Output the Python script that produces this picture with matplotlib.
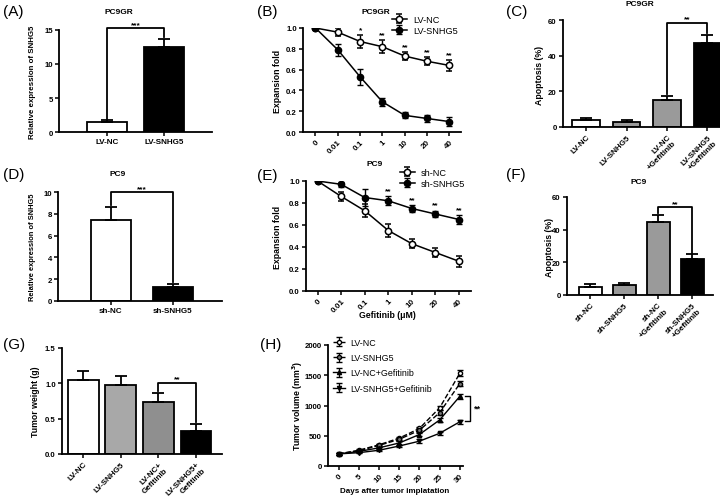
import matplotlib
matplotlib.use("Agg")
import matplotlib.pyplot as plt
import numpy as np

plt.rcParams["font.family"] = ["Liberation Sans", "DejaVu Sans"]
plt.rcParams["font.weight"] = "bold"

# ---- data ----
a_groups = ["LV-NC", "LV-SNHG5"]
a_vals = [1.4, 12.5]
a_err = [0.3, 1.2]

conc = ["0", "0.01", "0.1", "1", "10", "20", "40"]
b_nc = [1.0, 0.96, 0.87, 0.82, 0.73, 0.68, 0.64]
b_nc_err = [0.0, 0.04, 0.06, 0.06, 0.04, 0.04, 0.05]
b_snhg5 = [1.0, 0.79, 0.53, 0.29, 0.16, 0.13, 0.10]
b_snhg5_err = [0.0, 0.06, 0.08, 0.04, 0.03, 0.03, 0.04]
b_stars = ["", "", "*", "**", "**", "**", "**"]

c_groups = ["LV-NC", "LV-SNHG5", "LV-NC\n+Gefitinib", "LV-SNHG5\n+Gefitinib"]
c_vals = [4.0, 3.0, 15.0, 47.0]
c_err = [0.8, 1.2, 2.5, 4.5]

d_groups = ["sh-NC", "sh-SNHG5"]
d_vals = [7.4, 1.3]
d_err = [1.2, 0.25]

e_nc = [1.0, 0.86, 0.73, 0.55, 0.43, 0.35, 0.27]
e_nc_err = [0.0, 0.04, 0.06, 0.06, 0.04, 0.04, 0.05]
e_snhg5 = [1.0, 0.97, 0.85, 0.82, 0.75, 0.70, 0.65]
e_snhg5_err = [0.0, 0.02, 0.08, 0.04, 0.03, 0.03, 0.04]
e_stars = ["", "", "", "**", "**", "**", "**"]

f_groups = ["sh-NC", "sh-SNHG5", "sh-NC\n+Gefitinib", "sh-SNHG5\n+Gefitinib"]
f_vals = [5.0, 6.0, 45.0, 22.0]
f_err = [2.0, 1.2, 4.0, 3.0]

g_groups = ["LV-NC", "LV-SNHG5", "LV-NC+\nGefitinib", "LV-SNHG5+\nGefitinib"]
g_vals = [1.05, 0.98, 0.74, 0.33]
g_err = [0.12, 0.13, 0.13, 0.10]

days = [0, 5, 10, 15, 20, 25, 30]
h_nc = [200, 260, 350, 460, 620, 960, 1530]
h_nc_err = [10, 15, 20, 25, 30, 40, 50]
h_snhg5 = [200, 250, 340, 440, 590, 880, 1360]
h_snhg5_err = [10, 15, 20, 25, 30, 40, 45]
h_nc_gef = [200, 240, 300, 380, 520, 760, 1150]
h_nc_gef_err = [10, 15, 20, 25, 30, 35, 40]
h_snhg5_gef = [200, 220, 260, 330, 410, 540, 730]
h_snhg5_gef_err = [10, 12, 15, 20, 30, 30, 35]

W, H = 720, 502


def box(l, t, r, b):
    return [l / W, 1 - b / H, (r - l) / W, (b - t) / H]


def ftext(fig, px, py, s, **kw):
    fig.text(px / W, 1 - py / H, s, va="center", ha="center", **kw)


def style(ax, xrot=0):
    ax.spines[["top", "right"]].set_visible(False)
    for s in ("left", "bottom"):
        ax.spines[s].set_linewidth(1.3)
    ax.tick_params(width=1.1, length=3, pad=1.5)
    ax.tick_params(axis="y", labelsize=5.6)
    ax.tick_params(axis="x", labelsize=5.8)
    if xrot:
        for lab in ax.get_xticklabels():
            lab.set_rotation(xrot)
            lab.set_ha("right")
            lab.set_rotation_mode("anchor")


def bars(ax, vals, errs, colors, labels, width, xlim, ylim, yticks, xrot=45):
    x = np.arange(len(vals))
    ax.bar(x, vals, width=width, color=colors, edgecolor="black", linewidth=1.3, zorder=2)
    ax.errorbar(x, vals, yerr=[np.zeros(len(errs)), errs], fmt="none", ecolor="black",
                elinewidth=1.3, capsize=4.5, capthick=1.3, zorder=3)
    ax.set_xticks(x)
    ax.set_xticklabels(labels)
    ax.set_xlim(*xlim)
    ax.set_ylim(*ylim)
    ax.set_yticks(yticks)
    style(ax, xrot)


def bracket(ax, x1, x2, y1, y2, ytop, text):
    ax.plot([x1, x1, x2, x2], [y1, ytop, ytop, y2], color="black", lw=1.3,
            clip_on=False, zorder=4)
    ax.text((x1 + x2) / 2, ytop, text, ha="center", va="bottom", fontsize=6)


def curves(ax, a, a_err, b, b_err, la, lb, stars, star_base, legend_px):
    x = np.arange(len(a))
    ax.errorbar(x, a, yerr=a_err, color="black", marker="o", mfc="white", mec="black",
                mew=1.1, ms=4.5, lw=1.1, capsize=2.5, elinewidth=1.0, label=la)
    ax.errorbar(x, b, yerr=b_err, color="black", marker="o", mfc="black", mec="black",
                ms=4.5, lw=1.1, capsize=2.5, elinewidth=1.0, label=lb)
    for i, s in enumerate(stars):
        if s:
            ax.text(i, star_base[i] + 0.02, s, ha="center", va="bottom", fontsize=6)
    ax.set_xticks(x)
    ax.set_xticklabels(conc)
    ax.set_ylim(0, 1.0)
    ax.set_yticks(np.arange(0, 1.01, 0.2))
    ax.yaxis.set_major_formatter(matplotlib.ticker.FormatStrFormatter("%.1f"))
    style(ax, 45)
    handles, labels = ax.get_legend_handles_labels()
    ax.legend(handles, labels, loc="upper left",
              bbox_to_anchor=(legend_px[0] / W, 1 - legend_px[1] / H),
              bbox_transform=ax.figure.transFigure, frameon=False,
              prop={"size": 6.6, "weight": "normal"}, handlelength=1.6,
              handletextpad=0.7, borderpad=0, borderaxespad=0, labelspacing=0.2)


fig = plt.figure(figsize=(7.2, 5.02), dpi=100)

# (A)
ax = fig.add_axes(box(59, 31, 212, 133))
bars(ax, a_vals, a_err, ["white", "black"], a_groups, 0.7, (-0.83, 1.83), (0, 15),
     [0, 5, 10, 15], xrot=0)
bracket(ax, 0, 1, 1.9, 13.9, 15.3, "***")
ftext(fig, 119, 13, "PC9GR", fontsize=6)
ftext(fig, 32, 82, "Relative expression of SNHG5", fontsize=5.7, rotation=90)

# (B)
ax = fig.add_axes(box(303, 29, 461, 133))
curves(ax, b_nc, b_nc_err, b_snhg5, b_snhg5_err, "LV-NC", "LV-SNHG5", b_stars,
       np.array(b_nc) + np.array(b_nc_err), (392, 16))
ax.set_xlim(-0.56, 6.52)
ftext(fig, 376, 12, "PC9GR", fontsize=6)
ftext(fig, 278, 81, "Expansion fold", fontsize=6.3, rotation=90)

# (C)
ax = fig.add_axes(box(563, 21, 735, 128))
bars(ax, c_vals, c_err, ["white", "#9a9a9a", "#9a9a9a", "black"], c_groups, 0.68,
     (-0.57, 3.68), (0, 60), [0, 20, 40, 60])
bracket(ax, 2, 3, 18.5, 52.5, 58.5, "**")
ftext(fig, 640, 5, "PC9GR", fontsize=6)
ftext(fig, 540, 75, "Apoptosis (%)", fontsize=6.3, rotation=90)

# (D)
ax = fig.add_axes(box(58, 193, 222, 302))
bars(ax, d_vals, d_err, ["white", "black"], d_groups, 0.65, (-0.85, 1.79), (0, 10),
     [0, 2, 4, 6, 8, 10], xrot=0)
bracket(ax, 0, 1, 8.8, 1.7, 10, "***")
ftext(fig, 118, 175, "PC9", fontsize=6)
ftext(fig, 33, 247, "Relative expression of SNHG5", fontsize=5.4, rotation=90)

# (E)
ax = fig.add_axes(box(306, 182, 471, 292))
curves(ax, e_nc, e_nc_err, e_snhg5, e_snhg5_err, "sh-NC", "sh-SNHG5", e_stars,
       np.array(e_snhg5) + np.array(e_snhg5_err), (400, 169))
ax.set_xlim(-0.49, 6.51)
ftext(fig, 375, 165, "PC9", fontsize=6)
ftext(fig, 278, 237, "Expansion fold", fontsize=6.3, rotation=90)
ftext(fig, 387, 315, "Gefitinib (μM)", fontsize=6.3)

# (F)
ax = fig.add_axes(box(567, 198, 713, 296))
bars(ax, f_vals, f_err, ["white", "#9a9a9a", "#9a9a9a", "black"], f_groups, 0.69,
     (-0.69, 3.61), (0, 60), [0, 20, 40, 60])
bracket(ax, 2, 3, 50, 26, 53.8, "**")
ftext(fig, 639, 183, "PC9", fontsize=6)
ftext(fig, 549, 247, "Apoptosis (%)", fontsize=6.3, rotation=90)

# (G)
ax = fig.add_axes(box(62, 349, 222, 455))
bars(ax, g_vals, g_err, ["white", "#a8a8a8", "#8f8f8f", "black"], g_groups, 0.82,
     (-0.56, 3.69), (0, 1.5), [0, 0.5, 1.0, 1.5])
ax.yaxis.set_major_formatter(matplotlib.ticker.FormatStrFormatter("%.1f"))
bracket(ax, 2, 3, 0.89, 0.45, 1.01, "**")
ftext(fig, 36, 402, "Tumor weight (g)", fontsize=6.3, rotation=90)

# (H)
ax = fig.add_axes(box(328, 346, 463, 467))
kw = dict(color="black", lw=1.0, ms=3, capsize=2, elinewidth=0.9)
ax.errorbar(days, h_nc, yerr=h_nc_err, ls="--", marker="o", mfc="white", mec="black",
            label="LV-NC", **kw)
ax.errorbar(days, h_snhg5, yerr=h_snhg5_err, ls="--", marker="o", mfc="#777777",
            mec="black", label="LV-SNHG5", **kw)
ax.errorbar(days, h_nc_gef, yerr=h_nc_gef_err, ls="-", marker="^", mfc="black",
            label="LV-NC+Gefitinib", **kw)
ax.errorbar(days, h_snhg5_gef, yerr=h_snhg5_gef_err, ls="-", marker="v", mfc="black",
            label="LV-SNHG5+Gefitinib", **kw)
ax.plot([31.2, 32.5, 32.5, 31.2], [1150, 1150, 750, 750], color="black", lw=1.0,
        clip_on=False)
ax.text(33.5, 950, "**", ha="left", va="center", fontsize=6.5)
ax.set_xticks(days)
ax.set_xlim(-2.6, 30.8)
ax.set_ylim(0, 2000)
ax.set_yticks([0, 500, 1000, 1500, 2000])
style(ax, 45)
handles, labels = ax.get_legend_handles_labels()
ax.legend(handles, labels, loc="upper left", bbox_to_anchor=(333 / W, 1 - 339 / H),
          bbox_transform=fig.transFigure, frameon=False,
          prop={"size": 6.4, "weight": "normal"}, handlelength=1.3, handletextpad=0.6,
          borderpad=0, borderaxespad=0, labelspacing=0.7)
ftext(fig, 298, 406, "Tumor volume (mm$^3$)", fontsize=6.3, rotation=90)
ftext(fig, 395, 492, "Days after tumor implatation", fontsize=5.8)

# panel letters
for lab, px, py in [("(A)", 3, 12), ("(B)", 257, 12), ("(C)", 506, 12),
                    ("(D)", 3, 175), ("(E)", 257, 176), ("(F)", 506, 175),
                    ("(G)", 3, 345), ("(H)", 260, 345)]:
    fig.text(px / W, 1 - py / H, lab, ha="left", va="center", fontsize=11,
             fontweight="normal")

fig.savefig("out.png", dpi=100)
